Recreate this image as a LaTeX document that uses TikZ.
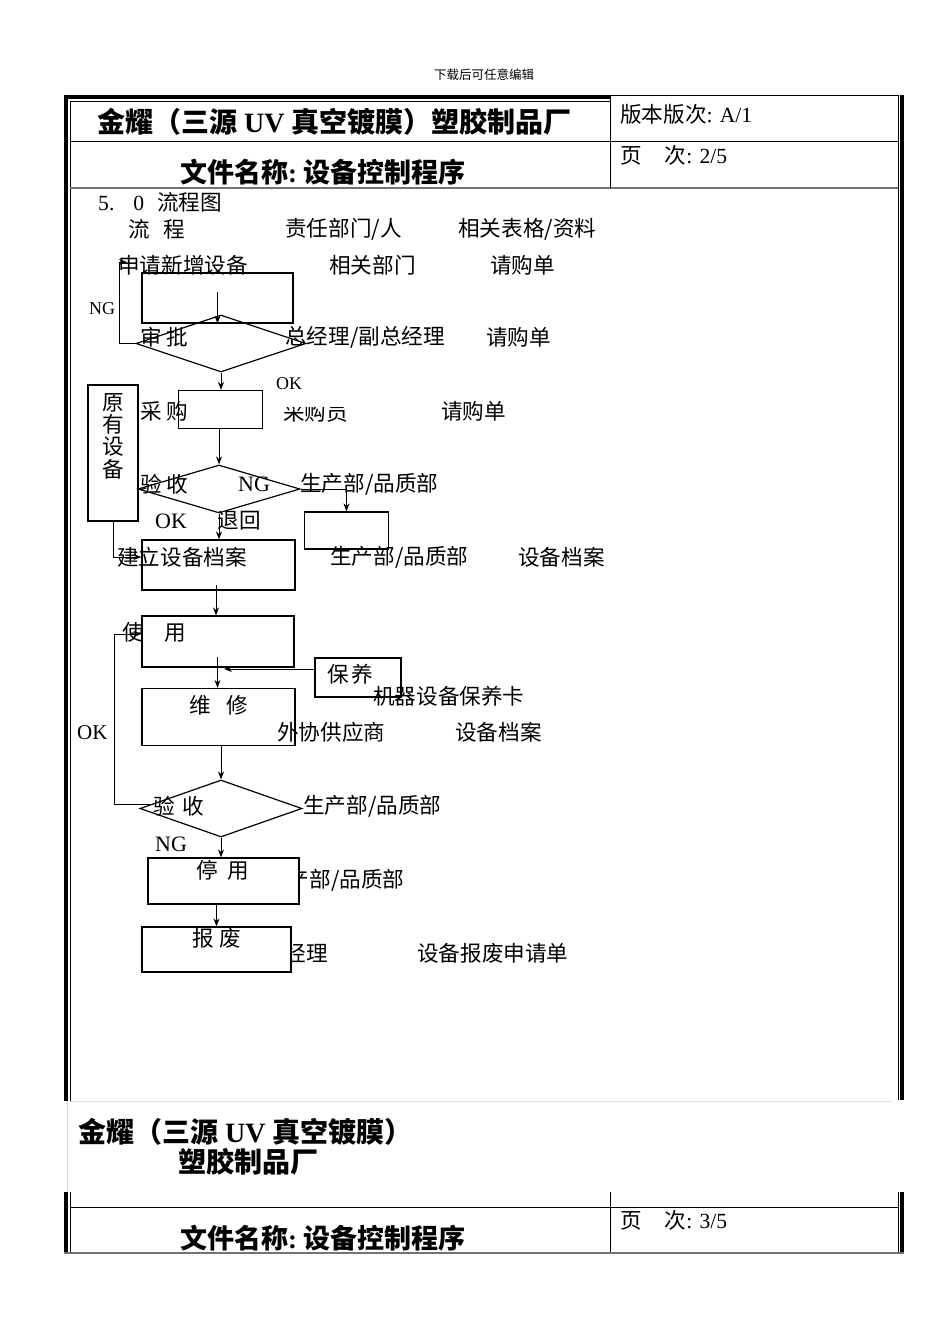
\documentclass[tikz,border=0pt]{standalone}
\usepackage{fontspec}
\setmainfont{Liberation Serif}
\newfontfamily\cjk{Noto Sans CJK SC}
\usetikzlibrary{shapes.geometric,arrows.meta}
\tikzset{
  tx/.style={inner sep=0pt, anchor=west, font=\fontsize{21.6}{24}\selectfont\cjk},
  lat/.style={inner sep=0pt, anchor=west, font=\fontsize{#1}{24}\selectfont\rmfamily},
  ttl/.style={inner sep=0pt, anchor=west, font=\fontsize{#1}{30}\selectfont\cjk\bfseries},
  flowbox/.style={draw, line width=1.2pt, fill=white, inner sep=0pt},
  dia/.style={diamond, draw, line width=1.2pt, inner sep=0pt},
  ln/.style={line width=1pt},
  arr/.style={line width=1pt, -{Stealth[length=8pt,width=6pt]}},
  frameA/.style={line width=4pt},
  frameB/.style={line width=1pt},
}
\begin{document}
\begin{tikzpicture}[x=1pt,y=-1pt]
\useasboundingbox (0,0) rectangle (950,1344);
\fill[white] (0,0) rectangle (950,1344);
% ---------- frame ----------
\draw[frameA] (66,1101) -- (66,97) -- (610,97);
\draw[frameB] (610,95.5) -- (898,95.5);
\draw[frameB] (70,1101) -- (70,101) -- (610,101);
\draw[frameB] (898,95) -- (898,1100);
\draw[frameA] (902,95) -- (902,1100);
\draw[frameB] (70,141) -- (898,141);
\draw[line width=2pt, black!55] (70,188) -- (898,188);
\draw[frameB] (610,95) -- (610,188);
\draw[frameB, black!12] (70,1101) -- (892,1101);
\draw[frameB, black!15] (67.5,1101) -- (67.5,1192);
\draw[frameA] (66,1192) -- (66,1253);
\draw[frameB] (70,1192) -- (70,1253);
\draw[frameB] (898,1192) -- (898,1253);
\draw[frameA] (902,1192) -- (902,1253);
\draw[frameB] (70,1207) -- (898,1207);
\draw[frameB] (610,1192) -- (610,1253);
\draw[line width=2pt, black!55] (64,1253) -- (904,1253);
% ---------- header texts ----------
\node[inner sep=0pt, font=\fontsize{12.5}{14}\selectfont\cjk] (dl) at (484,75) {下载后可任意编辑};
\node[ttl=28] (title) at (97,122) {金耀（三源{\rmfamily\bfseries\ UV\ }真空镀膜）塑胶制品厂};
\node[ttl=27] (fname) at (180,172) {文件名称{\rmfamily\bfseries:\ }设备控制程序};
\node[tx] (ver) at (620,114) {版本版次{\rmfamily: A/1}};
\node[tx] (pg) at (620,155) {页\hspace{23pt}次{\rmfamily: 2/5}};
% ---------- hidden texts (under boxes) ----------
\node[tx] (r9b) at (266,880) {生产部/品质部};
\node[tx] (r10b) at (263,953) {总经理};
% ---------- boxes ----------
\node[flowbox, minimum width=151pt, minimum height=50pt] (box1) at (217.5,298) {};
\node[flowbox, minimum width=84pt, minimum height=38pt] (box2) at (220.5,409.5) {};
\node[flowbox, minimum width=50pt, minimum height=136pt] (yuan) at (113,453) {};
\node[flowbox, minimum width=84pt, minimum height=37pt] (tuihui) at (346.5,530.5) {};
\node[flowbox, minimum width=153pt, minimum height=50pt] (box3) at (218.5,565) {};
\node[flowbox, minimum width=152pt, minimum height=51pt] (box4) at (218,641.5) {};
\node[flowbox, minimum width=86pt, minimum height=39pt] (baoyang) at (358,677.5) {};
\node[flowbox, minimum width=153pt, minimum height=57pt] (box5) at (218.5,717) {};
\node[flowbox, minimum width=151pt, minimum height=46pt] (box6) at (223.5,881) {};
\node[flowbox, minimum width=149pt, minimum height=45pt] (box7) at (216.5,949.5) {};
% ---------- diamonds ----------
\node[dia, minimum width=170pt, minimum height=57pt] (d1) at (221,343.5) {};
\node[dia, minimum width=162pt, minimum height=48pt] (d2) at (219,489) {};
\node[dia, minimum width=162pt, minimum height=57pt] (d3) at (221,808.5) {};
% ---------- connectors ----------
\coordinate (c1) at (217.5,292);
\draw[arr] (c1) -- (box1.south);
\coordinate (ng1top) at (119,262);
\draw[ln] (d1.west) -| (ng1top);
\draw[arr] (ng1top) -- ++(8,0);
\draw[arr] (d1.south) -- (d1.south |- box2.north);
\draw[arr] (box2.south -| d2.north) -- (d2.north);
\draw[arr] (d2.east) -| (tuihui.north);
\draw[arr] (d2.south) -- (d2.south |- box3.north);
\draw[arr] (yuan.south) |- ([yshift=8pt]box3.west);
\coordinate (c3) at (216,585);
\draw[arr] (c3) -- (c3 |- box4.north);
\coordinate (c4) at (217.5,657);
\draw[arr] (c4) -- (c4 |- box5.north);
\coordinate (bytip) at (224,669);
\draw[arr] (baoyang.west |- bytip) -- (bytip);
\draw[arr] (d3.north |- box5.south) -- (d3.north);
\coordinate (ok0) at (150,804);
\draw[arr] (ok0) -| ([xshift=-27pt,yshift=7.5pt]box4.west) -- ([yshift=7.5pt]box4.west);
\draw[arr] (d3.south) -- (d3.south |- box6.north);
\draw[arr] (box7.north |- box6.south) -- (box7.north);
% ---------- flow texts ----------
\node[tx] (s50) at (98,202) {{\rmfamily 5.\hspace{19pt}0}\hspace{13pt}流程图};
\node[tx] (h1) at (128,229) {流\hspace{14pt}程};
\node[tx] (h2) at (285,229) {责任部门/人};
\node[tx] (h3) at (458,229) {相关表格/资料};
\node[tx] (r1a) at (118,265) {申请新增设备};
\node[tx] (r1b) at (329,265) {相关部门};
\node[tx] (r1c) at (490,265) {请购单};
\node[lat=18] (ng1) at (89,309) {NG};
\node[tx] (r2a) at (140,337) {审\hspace{5pt}批};
\node[tx] (r2b) at (285,337) {总经理/副总经理};
\node[tx] (r2c) at (486,337) {请购单};
\node[lat=18] (ok1) at (276,384) {OK};
\node[tx] (r3a) at (140,411) {采\hspace{5pt}购};
\node[tx] (r3b) at (283,412) {采购员};
\fill[white] (280,395) rectangle (350,406.5);
\node[tx] (r3c) at (441,411) {请购单};
\node[inner sep=0pt, align=center, font=\fontsize{21.6}{22.3}\selectfont\cjk] (yt) at (113,436) {原\\有\\设\\备};
\node[tx] (r4a) at (140,484) {验\hspace{5pt}收};
\node[lat=22] (ng2) at (238,484) {NG};
\node[tx] (r4b) at (300,484) {生产部/品质部};
\node[lat=22] (ok2) at (155,521) {OK};
\node[tx] (r4c) at (217,521) {退\hspace{1pt}回};
\node[tx] (r5a) at (117,557) {建立设备档案};
\node[tx] (r5b) at (330,557) {生产部/品质部};
\node[tx] (r5c) at (518,557) {设备档案};
\node[tx] (r6a) at (122,632) {使\hspace{21pt}用};
\node[tx] (r6b) at (327,674) {保\hspace{3pt}养};
\node[tx] (r7a) at (189,705) {维\hspace{16pt}修};
\node[tx] (r7b) at (373,696) {机器设备保养卡};
\node[lat=21] (ok3) at (77,733) {OK};
\node[tx] (r7c) at (277,732) {外协供应商};
\node[tx] (r7d) at (455,732) {设备档案};
\node[tx] (r8a) at (153,806) {验\hspace{8pt}收};
\node[tx] (r8b) at (303,806) {生产部/品质部};
\node[lat=22] (ng3) at (155,844) {NG};
\node[tx] (r9a) at (196,870) {停\hspace{10pt}用};
\node[tx] (r10a) at (192,938) {报\hspace{6pt}废};
\node[tx] (r10c) at (417,953) {设备报废申请单};
% ---------- second header ----------
\node[ttl=28] (bt1) at (78,1132) {金耀（三源{\rmfamily\bfseries\ UV\ }真空镀膜）};
\node[ttl=28] (bt2) at (178,1162) {塑胶制品厂};
\node[tx] (bpg) at (620,1220) {页\hspace{23pt}次{\rmfamily: 3/5}};
\node[ttl=27] (bfn) at (180,1238) {文件名称{\rmfamily\bfseries:\ }设备控制程序};
\end{tikzpicture}
\end{document}
